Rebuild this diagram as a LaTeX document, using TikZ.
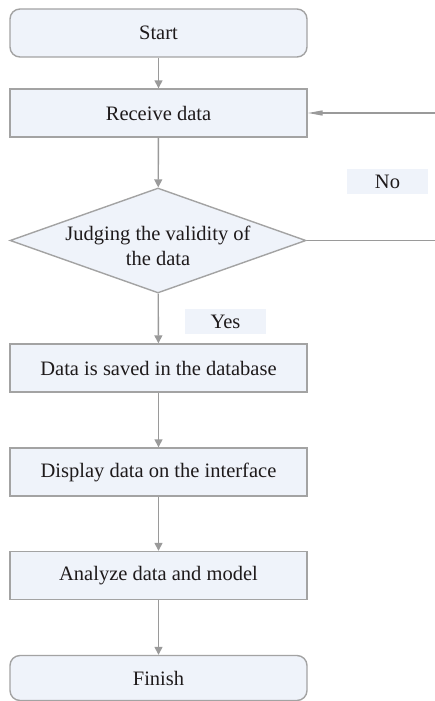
\documentclass[tikz,border=0pt]{standalone}
\usepackage{fontspec}
\setmainfont{Liberation Serif}
\usetikzlibrary{shapes.geometric,arrows.meta}
\definecolor{boxfill}{HTML}{EFF3FA}
\definecolor{edgegray}{HTML}{A3A3A3}
\definecolor{linegray}{HTML}{9A9A9A}
\definecolor{inkdark}{HTML}{1E1A1B}
\begin{document}
\begin{tikzpicture}[x=1pt,y=1pt,
  font=\rmfamily\fontsize{20.5}{25.5}\selectfont,
  every node/.style={text=inkdark},
  procbox/.style={draw=edgegray,line width=1.4pt,fill=boxfill,
    minimum width=297pt,minimum height=48pt,inner sep=0pt},
  termbox/.style={procbox,rounded corners=10pt},
  decision/.style={diamond,draw=edgegray,line width=1.4pt,fill=boxfill,
    minimum width=296pt,minimum height=105pt,inner sep=0pt},
  tag/.style={fill=boxfill,minimum width=81pt,minimum height=25pt,inner sep=0pt},
  flow/.style={draw=linegray,line width=1.4pt,
    -{Triangle[length=8pt,width=8pt]}},
  back/.style={draw=linegray,line width=1.4pt,
    -{Triangle[length=15pt,width=5pt]}},
  plain/.style={draw=linegray,line width=1.4pt}]
\useasboundingbox (0,0) rectangle (435,-701);

% process boxes and terminals
\node[termbox] (start)   at (158.5,-33)  {Start};
\node[procbox] (receive) at (158.5,-113) {Receive data};
\node[decision] (judge)  at (158,-240.5) {};
\node[align=center] (judgetext) at (158,-246) {Judging the validity of\\the data};
\node[procbox] (save)    at (158.5,-368) {Data is saved in the database};
\node[procbox] (show)    at (158.5,-472) {Display data on the interface};
\node[procbox] (analyze) at (158.5,-575.5) {Analyze data and model};
\node[termbox] (finish)  at (158.5,-678) [minimum height=45pt] {Finish};

% branch labels
\node[tag] (no)  at (387.5,-181.5) {No};
\node[tag] (yes) at (225.5,-321.5) {Yes};

% the "No" branch leaves and re-enters at the right edge
\coordinate (loopout) at (435,-240.5);
\coordinate (loopin)  at (435,-113);

\draw[flow] (start) -- (receive);
\draw[flow] (receive) -- (judge);
\draw[flow] (judge) -- (save);
\draw[flow] (save) -- (show);
\draw[flow] (show) -- (analyze);
\draw[flow] (analyze) -- (finish);
\draw[plain] (judge.east) -- (loopout);
\draw[back] (loopin) -- (receive.east);
\end{tikzpicture}
\end{document}
